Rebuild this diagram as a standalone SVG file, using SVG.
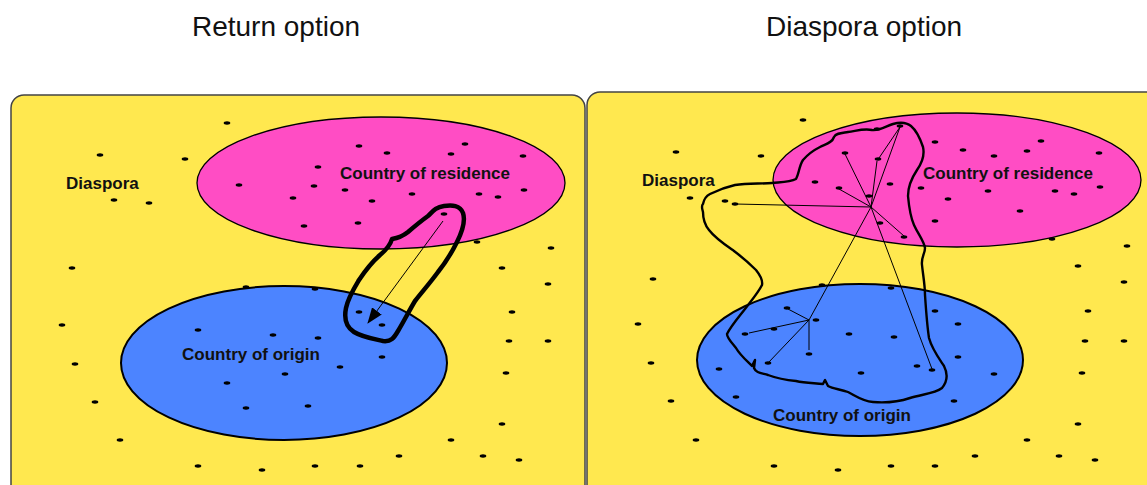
<svg xmlns="http://www.w3.org/2000/svg" xmlns:xlink="http://www.w3.org/1999/xlink" width="1147" height="485" viewBox="0 0 1147 485">
<style>
.title{font-family:"Liberation Sans",Arial,sans-serif;font-size:28px;fill:#111}
.lbl{font-family:"Liberation Sans",Arial,sans-serif;font-size:17px;font-weight:bold;fill:#111}
.panel{fill:#FFE84F;stroke:#444;stroke-width:1.5}
.res{fill:#FF4DC4;stroke:#000;stroke-width:1.3}
.ori{fill:#4C84FF;stroke:#000;stroke-width:2}
.blob1{fill:none;stroke:#000;stroke-width:4.5;stroke-linejoin:round}
.blob2{fill:none;stroke:#000;stroke-width:2.4;stroke-linejoin:round}
.thin{fill:none;stroke:#000;stroke-width:1}
</style>
<defs>
<ellipse id="d" cx="0" cy="0" rx="3.3" ry="1.7" fill="#000"/>
<marker id="ah" markerWidth="16" markerHeight="12" refX="15" refY="6" orient="auto" markerUnits="userSpaceOnUse">
<path d="M0,0 L16,6 L0,12 Z" fill="#000"/>
</marker>
</defs>
<rect width="1147" height="485" fill="#fff"/>
<text class="title" x="276" y="36" text-anchor="middle">Return option</text>
<text class="title" x="864" y="36" text-anchor="middle">Diaspora option</text>

<g id="panel-return">
<rect class="panel" x="11" y="95" width="574" height="420" rx="13"/>
<g id="return-residence"><ellipse class="res" cx="381" cy="183" rx="184" ry="66"/></g>
<g id="return-origin"><ellipse class="ori" cx="284" cy="363" rx="163" ry="77"/></g>
<g id="return-dots">
<use xlink:href="#d" x="227" y="123"/><use xlink:href="#d" x="100" y="155"/><use xlink:href="#d" x="185" y="159"/><use xlink:href="#d" x="359" y="146"/><use xlink:href="#d" x="465" y="144"/><use xlink:href="#d" x="387" y="153"/><use xlink:href="#d" x="451" y="154"/><use xlink:href="#d" x="523" y="156"/><use xlink:href="#d" x="318" y="167"/><use xlink:href="#d" x="239" y="185"/><use xlink:href="#d" x="314" y="186"/><use xlink:href="#d" x="345" y="190"/><use xlink:href="#d" x="293" y="198"/><use xlink:href="#d" x="372" y="201"/><use xlink:href="#d" x="412" y="194"/><use xlink:href="#d" x="479" y="194"/><use xlink:href="#d" x="498" y="197"/><use xlink:href="#d" x="524" y="190"/><use xlink:href="#d" x="114" y="200"/><use xlink:href="#d" x="149" y="203"/><use xlink:href="#d" x="444" y="214"/><use xlink:href="#d" x="304" y="226"/><use xlink:href="#d" x="358" y="223"/><use xlink:href="#d" x="477" y="242"/><use xlink:href="#d" x="551" y="248"/><use xlink:href="#d" x="72" y="268"/><use xlink:href="#d" x="502" y="268"/><use xlink:href="#d" x="548" y="284"/><use xlink:href="#d" x="246" y="287"/><use xlink:href="#d" x="315" y="289"/><use xlink:href="#d" x="62" y="325"/><use xlink:href="#d" x="198" y="330"/><use xlink:href="#d" x="273" y="335"/><use xlink:href="#d" x="318" y="338"/><use xlink:href="#d" x="359" y="312"/><use xlink:href="#d" x="382" y="325"/><use xlink:href="#d" x="512" y="312"/><use xlink:href="#d" x="509" y="341"/><use xlink:href="#d" x="548" y="341"/><use xlink:href="#d" x="382" y="357"/><use xlink:href="#d" x="340" y="367"/><use xlink:href="#d" x="506" y="373"/><use xlink:href="#d" x="75" y="364"/><use xlink:href="#d" x="285" y="374"/><use xlink:href="#d" x="227" y="383"/><use xlink:href="#d" x="95" y="402"/><use xlink:href="#d" x="246" y="408"/><use xlink:href="#d" x="308" y="406"/><use xlink:href="#d" x="502" y="424"/><use xlink:href="#d" x="451" y="440"/><use xlink:href="#d" x="120" y="440"/><use xlink:href="#d" x="198" y="466"/><use xlink:href="#d" x="262" y="470"/><use xlink:href="#d" x="399" y="456"/><use xlink:href="#d" x="483" y="456"/><use xlink:href="#d" x="519" y="460"/><use xlink:href="#d" x="315" y="466"/><use xlink:href="#d" x="360" y="466"/>
</g>
<text class="lbl" x="66" y="189">Diaspora</text>
<text class="lbl" x="425" y="179" text-anchor="middle">Country of residence</text>
<text class="lbl" x="251" y="360" text-anchor="middle">Country of origin</text>
</g>

<g id="panel-diaspora">
<rect class="panel" x="587" y="92" width="600" height="420" rx="13"/>
<g id="diaspora-residence"><ellipse class="res" cx="957" cy="180" rx="184" ry="67"/></g>
<g id="diaspora-origin"><ellipse class="ori" cx="860" cy="360" rx="163" ry="76"/></g>
<g id="diaspora-dots">
<use xlink:href="#d" x="803" y="120"/><use xlink:href="#d" x="676" y="152"/><use xlink:href="#d" x="761" y="156"/><use xlink:href="#d" x="845" y="153"/><use xlink:href="#d" x="815" y="182"/><use xlink:href="#d" x="839" y="188"/><use xlink:href="#d" x="690" y="198"/><use xlink:href="#d" x="725" y="201"/><use xlink:href="#d" x="735" y="204"/><use xlink:href="#d" x="869" y="196"/><use xlink:href="#d" x="653" y="279"/>
<use xlink:href="#d" x="900" y="126"/><use xlink:href="#d" x="877" y="129"/><use xlink:href="#d" x="935" y="142"/><use xlink:href="#d" x="963" y="150"/><use xlink:href="#d" x="994" y="156"/><use xlink:href="#d" x="1027" y="151"/><use xlink:href="#d" x="1041" y="141"/><use xlink:href="#d" x="1099" y="153"/><use xlink:href="#d" x="878" y="159"/><use xlink:href="#d" x="890" y="184"/><use xlink:href="#d" x="921" y="188"/><use xlink:href="#d" x="948" y="199"/><use xlink:href="#d" x="988" y="191"/><use xlink:href="#d" x="1055" y="191"/><use xlink:href="#d" x="1074" y="194"/><use xlink:href="#d" x="1100" y="187"/><use xlink:href="#d" x="880" y="223"/><use xlink:href="#d" x="904" y="237"/><use xlink:href="#d" x="935" y="221"/><use xlink:href="#d" x="1020" y="211"/><use xlink:href="#d" x="1052" y="239"/><use xlink:href="#d" x="1127" y="246"/><use xlink:href="#d" x="1078" y="266"/><use xlink:href="#d" x="1124" y="282"/>
<use xlink:href="#d" x="822" y="285"/><use xlink:href="#d" x="891" y="288"/><use xlink:href="#d" x="787" y="308"/><use xlink:href="#d" x="816" y="320"/><use xlink:href="#d" x="935" y="311"/><use xlink:href="#d" x="745" y="334"/><use xlink:href="#d" x="774" y="329"/><use xlink:href="#d" x="849" y="334"/><use xlink:href="#d" x="894" y="337"/><use xlink:href="#d" x="809" y="354"/><use xlink:href="#d" x="768" y="363"/><use xlink:href="#d" x="719" y="369"/><use xlink:href="#d" x="861" y="373"/><use xlink:href="#d" x="917" y="366"/><use xlink:href="#d" x="932" y="370"/><use xlink:href="#d" x="736" y="397"/>
<use xlink:href="#d" x="638" y="324"/><use xlink:href="#d" x="651" y="363"/><use xlink:href="#d" x="671" y="401"/><use xlink:href="#d" x="696" y="440"/><use xlink:href="#d" x="774" y="466"/><use xlink:href="#d" x="838" y="470"/>
<use xlink:href="#d" x="958" y="324"/><use xlink:href="#d" x="1088" y="311"/><use xlink:href="#d" x="1085" y="341"/><use xlink:href="#d" x="1124" y="341"/><use xlink:href="#d" x="958" y="357"/><use xlink:href="#d" x="994" y="374"/><use xlink:href="#d" x="1082" y="373"/><use xlink:href="#d" x="954" y="401"/><use xlink:href="#d" x="1078" y="424"/><use xlink:href="#d" x="1027" y="440"/><use xlink:href="#d" x="975" y="456"/><use xlink:href="#d" x="1059" y="456"/><use xlink:href="#d" x="1095" y="460"/><use xlink:href="#d" x="891" y="466"/><use xlink:href="#d" x="935" y="466"/>
</g>
<text class="lbl" x="642" y="186">Diaspora</text>
<text class="lbl" x="1008" y="179" text-anchor="middle">Country of residence</text>
<text class="lbl" x="842" y="421" text-anchor="middle">Country of origin</text>
</g>

<g id="connectors">
<path class="blob1" d="M392,239 C398,238 403,236 408,232 C415,226 421,221 428,216 C433,211 436,207 444,206 C452,205 460,205 463,213 C466,222 462,232 457,242 C452,252 446,262 438,272 C430,283 422,292 415,301 C409,311 404,321 398,331 C394,338 391,342 383,341 C374,339 362,337 354,332 C346,327 344,318 346,308 C348,298 353,290 359,280 C365,271 372,262 380,255 C386,250 390,246 392,239 Z"/>
<line class="thin" x1="443" y1="221" x2="368" y2="323" marker-end="url(#ah)"/>
<path class="blob2" d="M703,204 C704,199 706,196 710,194 C718,190 726,187 735,185 C748,183 760,184 772,183 C782,182 790,182 796,179 C799,174 799,166 803,160 C809,153 814,150 820,147 C826,144 832,143 834,137 C836,133 842,133 848,132 C856,131 864,128 872,130 C880,131 886,126 893,124 C900,122 906,122 911,126 C917,131 920,138 923,147 C925,156 922,163 917,170 C911,179 908,186 908,196 C909,207 910,216 914,225 C918,234 924,241 925,248 C925,254 921,257 922,265 C923,275 925,285 925,295 C926,310 927,325 929,338 C932,349 938,357 944,366 C948,374 947,382 942,388 C934,394 922,394 910,398 C898,402 885,403 873,402 C862,401 856,396 848,392 C840,389 833,389 828,386 L825,380 L823,384 C814,383 805,383 796,381 C785,380 776,378 768,375 C761,373 756,373 754,368 L755,360 L752,366 C746,360 740,355 736,348 C732,343 727,338 727,334 C731,326 738,318 745,309 C751,301 758,293 762,285 C763,280 760,275 756,270 C750,264 742,257 734,251 C724,244 715,238 709,230 C704,224 703,217 703,212 C702,208 701,206 703,204 Z"/>
<g id="network">
<line class="thin" x1="871" y1="207" x2="735" y2="204"/>
<line class="thin" x1="871" y1="207" x2="845" y2="154"/>
<line class="thin" x1="871" y1="207" x2="839" y2="189"/>
<line class="thin" x1="871" y1="207" x2="877" y2="161"/>
<line class="thin" x1="871" y1="207" x2="900" y2="127"/>
<line class="thin" x1="879" y1="158" x2="900" y2="127"/>
<line class="thin" x1="871" y1="207" x2="904" y2="236"/>
<line class="thin" x1="871" y1="207" x2="932" y2="369"/>
<polyline class="thin" points="871,207 809,320 768,363"/>
<line class="thin" x1="809" y1="320" x2="788" y2="309"/>
<line class="thin" x1="809" y1="320" x2="749" y2="333"/>
<line class="thin" x1="809" y1="320" x2="809" y2="350"/>
</g>
</g>
</svg>
